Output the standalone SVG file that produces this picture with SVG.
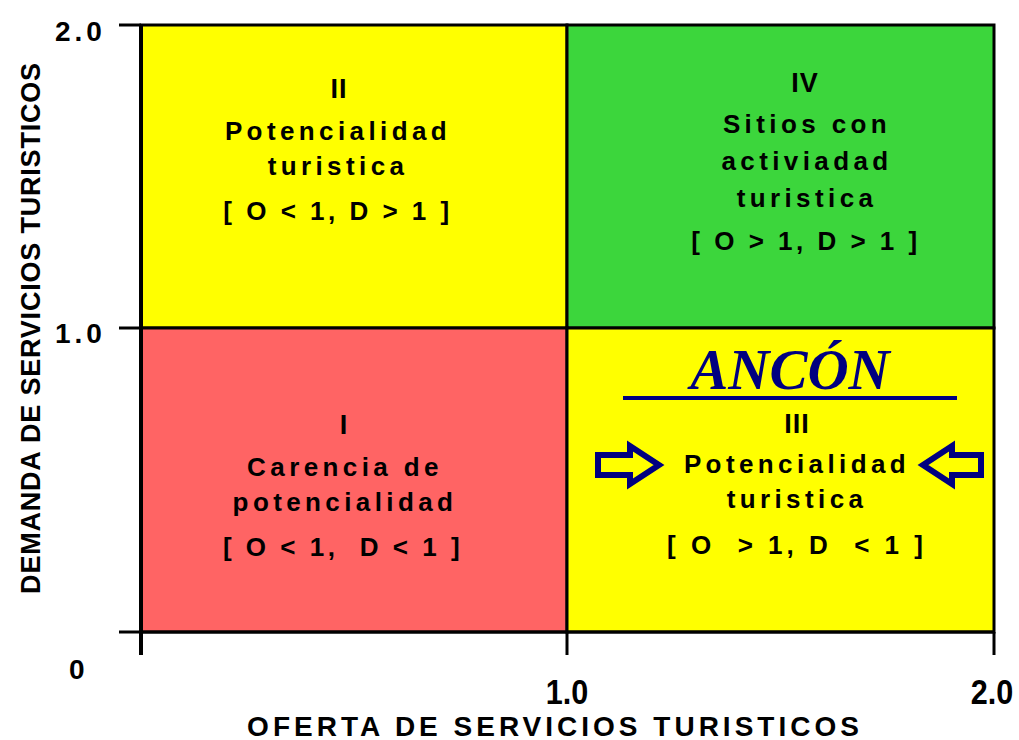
<svg xmlns="http://www.w3.org/2000/svg" width="1019" height="740" viewBox="0 0 1019 740">
<style>
.q{stroke:#000;stroke-width:3}
.t{font-family:"Liberation Sans",Arial,sans-serif;font-weight:bold;font-size:26px;letter-spacing:4.4px;fill:#000;text-anchor:middle}
.b{letter-spacing:3.5px}
.rn{font-family:"Liberation Sans",Arial,sans-serif;font-weight:bold;font-size:27px;letter-spacing:1px;fill:#000;text-anchor:middle}
.pre{white-space:pre}
.ax{font-family:"Liberation Sans",Arial,sans-serif;font-weight:bold;font-size:28px;fill:#000}
.ln{stroke:#000;stroke-width:3;fill:none}
.arr{fill:none;stroke:#000080;stroke-width:6;stroke-linejoin:miter}
</style>
<rect width="1019" height="740" fill="#fff"/>
<g id="quadrant-II">
<rect class="q" x="141" y="25" width="426" height="303" fill="#ffff00"/>
<text class="rn" x="339" y="98">II</text>
<text class="t" x="338" y="140">Potencialidad</text>
<text class="t" x="338" y="175">turistica</text>
<text class="t b" x="338" y="220">[ O &lt; 1, D &gt; 1 ]</text>
</g>
<g id="quadrant-IV">
<rect class="q" x="567" y="25" width="427" height="303" fill="#3cd63c"/>
<text class="rn" x="805" y="92">IV</text>
<text class="t" x="807" y="133">Sitios con</text>
<text class="t" x="807" y="170">activiadad</text>
<text class="t" x="807" y="207">turistica</text>
<text class="t b" x="806" y="250">[ O &gt; 1, D &gt; 1 ]</text>
</g>
<g id="quadrant-I">
<rect class="q" x="141" y="328" width="426" height="304" fill="#ff6464"/>
<text class="rn" x="344" y="434">I</text>
<text class="t" x="345" y="476">Carencia de</text>
<text class="t" x="345" y="511">potencialidad</text>
<text class="t b pre" x="343" y="556">[ O &lt; 1,  D &lt; 1 ]</text>
</g>
<g id="quadrant-III">
<rect class="q" x="567" y="328" width="427" height="304" fill="#ffff00"/>
<text x="790" y="389" font-family="'Liberation Serif','Times New Roman',serif" font-weight="bold" font-style="italic" font-size="57" fill="#000080" text-anchor="middle">ANCÓN</text>
<rect x="623" y="396" width="334" height="4" fill="#000080"/>
<text class="rn" x="797" y="433">III</text>
<text class="t" x="797" y="473">Potencialidad</text>
<text class="t" x="797" y="508">turistica</text>
<text class="t b pre" x="797" y="554" style="letter-spacing:4px">[ O  &gt; 1, D  &lt; 1 ]</text>
<polygon class="arr" points="598,455 630,455 630,446 659,465 630,484 630,475 598,475"/>
<polygon class="arr" points="981,455 952,455 952,446 923,465 952,484 952,475 981,475"/>
</g>
<g id="axes">
<line class="ln" x1="141" y1="25" x2="141" y2="655" style="stroke-width:4"/>
<line class="ln" x1="119" y1="25" x2="141" y2="25"/>
<line class="ln" x1="119" y1="328" x2="141" y2="328"/>
<line class="ln" x1="119" y1="632" x2="994" y2="632"/>
<line class="ln" x1="567" y1="632" x2="567" y2="655"/>
<line class="ln" x1="994" y1="632" x2="994" y2="655"/>
<text class="ax" x="55" y="41" letter-spacing="4">2.0</text>
<text class="ax" x="55" y="343" letter-spacing="4">1.0</text>
<text class="ax" x="69" y="679">0</text>
<text class="ax" transform="translate(567,704) scale(0.85,1)" style="font-size:36px" text-anchor="middle">1.0</text>
<text class="ax" transform="translate(992,704) scale(0.85,1)" style="font-size:36px" text-anchor="middle">2.0</text>
<text class="ax" x="555" y="736" text-anchor="middle" letter-spacing="4">OFERTA DE SERVICIOS TURISTICOS</text>
<text class="ax" transform="translate(40,328) rotate(-90)" text-anchor="middle" style="font-size:27px" letter-spacing="0.8">DEMANDA DE SERVICIOS TURISTICOS</text>
</g>
</svg>
